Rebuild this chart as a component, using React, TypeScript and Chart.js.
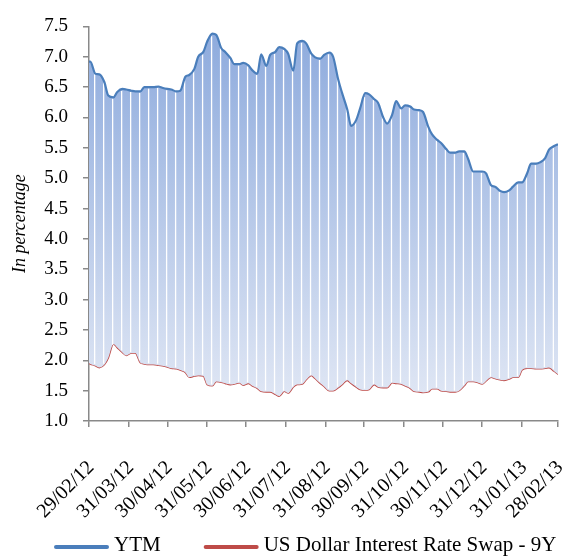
import React, { useEffect, useRef } from "react";
import { Chart, registerables } from "chart.js";

Chart.register(...registerables);

// Day offsets from 29/02/12 (Mondays and Thursdays of each week)
const days = [0, 1, 5, 8, 12, 15, 19, 22, 26, 29, 33, 36, 40, 43, 47, 50, 54, 57, 61, 64, 68, 71, 75, 78, 82, 85, 89, 92, 96, 99, 103, 106, 110, 113, 117, 120, 124, 127, 131, 134, 138, 141, 145, 148, 152, 155, 159, 162, 166, 169, 173, 176, 180, 183, 187, 190, 194, 197, 201, 204, 208, 211, 215, 218, 222, 225, 229, 232, 236, 239, 243, 246, 250, 253, 257, 260, 264, 267, 271, 274, 278, 281, 285, 288, 292, 295, 299, 302, 306, 309, 313, 316, 320, 323, 327, 330, 334, 337, 341, 344, 348, 351, 355, 358, 362, 365];

const ytm = [
  6.92, 6.92, 6.72, 6.71, 6.58, 6.36, 6.33, 6.42, 6.47, 6.46,
  6.44, 6.43, 6.43, 6.5, 6.5, 6.5, 6.51, 6.49, 6.47, 6.46,
  6.43, 6.44, 6.67, 6.7, 6.8, 7.0, 7.08, 7.25, 7.38, 7.36,
  7.14, 7.08, 6.98, 6.88, 6.88, 6.9, 6.86, 6.78, 6.72, 7.04,
  6.85, 7.03, 7.08, 7.16, 7.13, 7.05, 6.77, 7.22, 7.26, 7.22,
  7.05, 6.99, 6.97, 7.03, 7.07, 7.0, 6.62, 6.4, 6.13, 5.86,
  5.96, 6.15, 6.4, 6.38, 6.3, 6.24, 6.0, 5.9, 6.05, 6.27,
  6.15, 6.2, 6.18, 6.13, 6.12, 6.09, 5.85, 5.72, 5.63, 5.58,
  5.48, 5.42, 5.42, 5.44, 5.44, 5.32, 5.11, 5.11, 5.11, 5.08,
  4.88, 4.86, 4.79, 4.77, 4.8, 4.86, 4.93, 4.93, 5.08, 5.24,
  5.24, 5.26, 5.33, 5.47, 5.53, 5.56,
];

const swap9y = [
  1.95, 1.94, 1.91, 1.88, 1.93, 2.04, 2.27, 2.21, 2.13, 2.08,
  2.12, 2.12, 1.96, 1.94, 1.93, 1.93, 1.92, 1.91, 1.89, 1.87,
  1.86, 1.84, 1.8, 1.72, 1.74, 1.75, 1.74, 1.6, 1.58, 1.65,
  1.64, 1.62, 1.6, 1.61, 1.63, 1.59, 1.62, 1.58, 1.54, 1.49,
  1.48, 1.48, 1.44, 1.41, 1.49, 1.46, 1.56, 1.6, 1.61, 1.68,
  1.75, 1.7, 1.62, 1.57, 1.5, 1.5, 1.55, 1.6, 1.67, 1.62,
  1.56, 1.52, 1.51, 1.52, 1.6, 1.56, 1.55, 1.55, 1.63, 1.62,
  1.61, 1.58, 1.54, 1.49, 1.48, 1.47, 1.48, 1.53, 1.53, 1.5,
  1.49, 1.48, 1.48, 1.5, 1.58, 1.65, 1.65, 1.64, 1.61, 1.66,
  1.72, 1.7, 1.68, 1.67, 1.69, 1.72, 1.72, 1.84, 1.87, 1.87,
  1.86, 1.86, 1.87, 1.88, 1.82, 1.77,
];

// Month-end ticks
const tickDays = [0, 31, 61, 92, 122, 153, 184, 214, 245, 275, 306, 337, 365];
const tickLabels = ["29/02/12", "31/03/12", "30/04/12", "31/05/12", "30/06/12", "31/07/12", "31/08/12", "30/09/12", "31/10/12", "30/11/12", "31/12/12", "31/01/13", "28/02/13"];

// Weekend gaps (Saturday/Sunday midpoints) as day offsets
const weekendDays = [4.4, 11.4, 18.4, 25.4, 32.4, 39.4, 46.4, 53.4, 60.4, 67.4, 74.4, 81.4, 88.4, 95.4, 102.4, 109.4, 116.4, 123.4, 130.4, 137.4, 144.4, 151.4, 158.4, 165.4, 172.4, 179.4, 186.4, 193.4, 200.4, 207.4, 214.4, 221.4, 228.4, 235.4, 242.4, 249.4, 256.4, 263.4, 270.4, 277.4, 284.4, 291.4, 298.4, 305.4, 312.4, 319.4, 326.4, 333.4, 340.4, 347.4, 354.4, 361.4];

const FONT = "'Liberation Serif', 'Times New Roman', serif";
const AXIS = "#898989";

function interp(xs: number[], ys: number[], x: number) {
  for (let i = 1; i < xs.length; i++) {
    if (x <= xs[i]) {
      const t = (x - xs[i - 1]) / (xs[i] - xs[i - 1]);
      return ys[i - 1] + t * (ys[i] - ys[i - 1]);
    }
  }
  return ys[ys.length - 1];
}

const weekendPlugin = {
  id: "weekendGaps",
  beforeDatasetDraw(chart: any, args: any) {
    if (args.index !== 0) return;
    const { ctx, scales } = chart;
    const xs = scales.x;
    const ys = scales.y;
    ctx.save();
    ctx.strokeStyle = "#ffffff";
    ctx.lineWidth = 1.3;
    weekendDays.forEach((d) => {
      const px = xs.getPixelForValue(d);
      const top = ys.getPixelForValue(interp(days, ytm, d)) + 1.5;
      const bot = ys.getPixelForValue(interp(days, swap9y, d)) - 1.2;
      if (bot > top) {
        ctx.beginPath();
        ctx.moveTo(px, top);
        ctx.lineTo(px, bot);
        ctx.stroke();
      }
    });
    ctx.restore();
  },
};

// Legend drawn in Excel style: line sample followed by label
const lineLegendPlugin = {
  id: "lineLegend",
  afterDraw(chart: any) {
    const { ctx } = chart;
    const y = 545;
    let x = 54;
    const sample = 55;
    const gap = 5;
    const spacing = 43;
    ctx.save();
    ctx.font = `21px ${FONT}`;
    ctx.textBaseline = "middle";
    ctx.textAlign = "left";
    chart.data.datasets.forEach((ds: any) => {
      ctx.strokeStyle = ds.borderColor;
      ctx.lineWidth = 4;
      ctx.lineCap = "round";
      ctx.beginPath();
      ctx.moveTo(x + 2, y + 2);
      ctx.lineTo(x + sample - 2, y + 2);
      ctx.stroke();
      x += sample + gap;
      ctx.fillStyle = "#000";
      ctx.fillText(ds.label, x, y);
      x += ctx.measureText(ds.label).width + spacing;
    });
    ctx.restore();
  },
};

export default function App() {
  const ref = useRef<HTMLCanvasElement>(null);

  useEffect(() => {
    if (!ref.current) return;
    const chart = new Chart(ref.current, {
      type: "line",
      data: {
        datasets: [
          {
            label: "YTM",
            data: days.map((d, i) => ({ x: d, y: ytm[i] })),
            borderColor: "#4a7ebb",
            borderWidth: 2.2,
            pointRadius: 0,
            cubicInterpolationMode: "monotone",
            fill: "+1",
            backgroundColor: (c: any) => {
              const ch = c.chart;
              if (!ch.chartArea || !ch.scales.y) return "rgba(160,185,225,0.8)";
              const y = ch.scales.y;
              const g = ch.ctx.createLinearGradient(0, y.getPixelForValue(7.4), 0, y.getPixelForValue(1.4));
              g.addColorStop(0, "#8eabdd");
              g.addColorStop(1, "#dfe6f4");
              return g;
            },
          },
          {
            label: "US Dollar Interest Rate Swap - 9Y",
            data: days.map((d, i) => ({ x: d, y: swap9y[i] })),
            borderColor: "#be4b48",
            borderWidth: 1.6,
            pointRadius: 0,
            cubicInterpolationMode: "monotone",
            fill: false,
            backgroundColor: "#be4b48",
          },
        ],
      },
      options: {
        animation: false,
        responsive: false,
        maintainAspectRatio: false,
        layout: { padding: { top: 21, right: 6, bottom: 0, left: 0 } },
        plugins: {
          tooltip: { enabled: false },
          legend: { display: false },
        },
        scales: {
          x: {
            type: "linear",
            min: 0,
            max: 365,
            afterBuildTicks: (s: any) => {
              s.ticks = tickDays.map((v) => ({ value: v }));
            },
            afterFit: (s: any) => {
              s.height = 136;
              s.paddingLeft = 0;
              s.paddingRight = 0;
            },
            ticks: {
              autoSkip: false,
              maxRotation: 45,
              minRotation: 45,
              color: "#000",
              font: { family: FONT, size: 20 },
              padding: 29,
              labelOffset: 2,
              callback: (v: any) => tickLabels[tickDays.indexOf(Number(v))],
            },
            grid: { drawOnChartArea: false, drawTicks: true, tickLength: 6, color: AXIS, lineWidth: 1.5 },
            border: { display: true, color: AXIS, width: 1.5 },
          },
          y: {
            min: 1,
            max: 7.5,
            afterFit: (s: any) => {
              s.width = 89;
            },
            ticks: {
              stepSize: 0.5,
              autoSkip: false,
              maxTicksLimit: 20,
              color: "#000",
              font: { family: FONT, size: 19 },
              padding: 15,
              callback: (v: any) => Number(v).toFixed(1),
            },
            title: {
              display: true,
              text: "In percentage",
              color: "#000",
              font: { family: FONT, size: 18, style: "italic" },
              padding: { top: 9, bottom: 0 },
            },
            grid: { drawOnChartArea: false, drawTicks: true, tickLength: 6, color: AXIS, lineWidth: 1.5 },
            border: { display: true, color: AXIS, width: 1.5 },
          },
        },
      },
      plugins: [weekendPlugin, lineLegendPlugin],
    } as any);
    return () => chart.destroy();
  }, []);

  return (
    <div style={{ position: "absolute", left: 0, top: 0, width: 564, height: 557 }}>
      <canvas ref={ref} width={564} height={557} style={{ display: "block", width: 564, height: 557 }} />
    </div>
  );
}
